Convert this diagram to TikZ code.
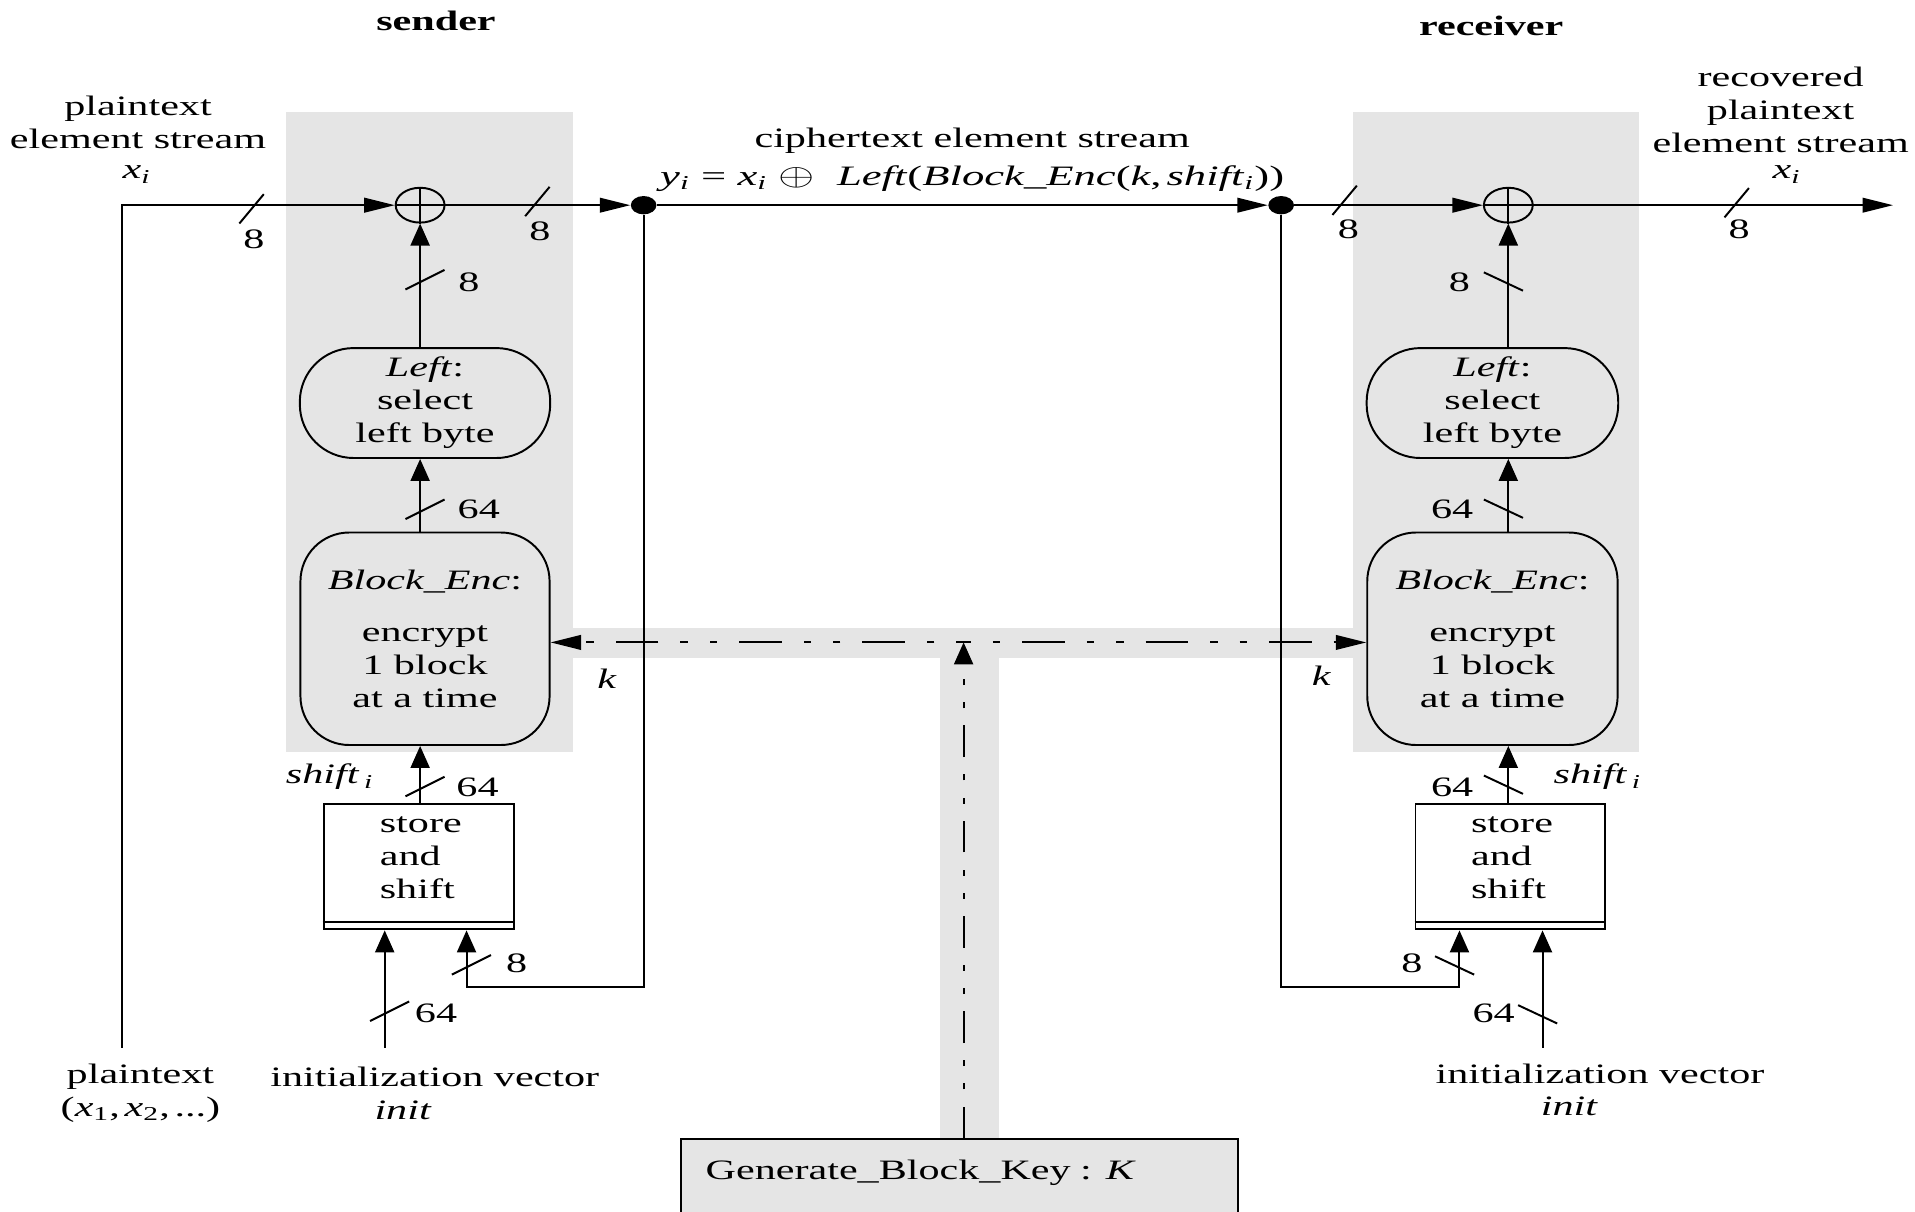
\documentclass[tikz,border=0pt]{standalone}
\usepackage{fontspec}
\setmainfont{Liberation Serif}[FakeStretch=1.5]
\usetikzlibrary{arrows.meta,shapes.geometric}
\definecolor{panel}{RGB}{229,229,229}

\newcommand{\isub}[1]{\textsubscript{\textit{#1}}}
\newcommand{\regtext}{\parbox[c][41pt][t]{32pt}{store\\and\\shift}}

\tikzset{
  wire/.style={line width=0.8pt},
  hto/.style={wire,-{Triangle[length=12.5pt,width=6pt]}},
  vto/.style={wire,-{Triangle[length=9pt,width=7.8pt]}},
  keyh/.style={line width=0.8pt, dash pattern=on 3pt off 9pt on 3pt off 9pt on 17.5pt off 9pt},
  keyv/.style={line width=0.8pt, dash pattern=on 13pt off 7pt on 2.5pt off 7pt on 2.5pt off 7pt},
  xorop/.style={ellipse, draw, wire, minimum width=20pt, minimum height=14.25pt, inner sep=0pt},
  joint/.style={ellipse, fill=black, minimum width=10.5pt, minimum height=7.5pt, inner sep=0pt},
  funcbox/.style={draw, wire, fill=panel, align=center, inner sep=0pt},
  regbox/.style={draw, wire, fill=white, inner sep=0pt, minimum height=51.5pt},
  genbox/.style={draw, wire, fill=panel, align=left, inner xsep=10pt, inner ysep=8pt,
    text width=208pt, text height=8.5pt, text depth=30pt},
  lbl/.style={inner sep=0pt, align=center},
  hbus/.pic={\draw[wire] (-10,12) -- (10,-12);},
  sbus/.pic={\draw[wire] (-12,6) -- (20,-10);},
  rbus/.pic={\draw[wire] (-20,-9) -- (12,6);}
}

\begin{document}
\begin{tikzpicture}[x=0.5pt,y=-0.5pt,font=\fontsize{11.5pt}{13.5pt}\selectfont]
\path[use as bounding box] (0,0) rectangle (1568,992);
\clip (0,0) rectangle (1568,992);

% shaded regions: sender, receiver and the key distribution channel
\fill[panel] (234,92) rectangle (469,616);
\fill[panel] (1108,92) rectangle (1342,616);
\fill[panel] (469,514) rectangle (1108,539);
\fill[panel] (770,539) rectangle (818,932);

% titles
\node[lbl] (sendt) at (357,17) {\bfseries sender};
\node[lbl] (recvt) at (1221,21) {\bfseries receiver};

% XOR combiners and branch points
\node[xorop] (sxor) at (344,168) {};
\node[joint] (sdot) at (527,168) {};
\node[joint] (rdot) at (1049,168) {};
\node[xorop] (rxor) at (1235,168) {};
\draw[wire] (sxor.north) -- (sxor.south) (sxor.west) -- (sxor.east);
\draw[wire] (rxor.north) -- (rxor.south) (rxor.west) -- (rxor.east);

% sender blocks
\node[funcbox, rounded corners=22pt, minimum width=102.5pt, minimum height=45pt]
  (sleft) at (348,330) {\textit{Left}:\\select\\left byte};
\node[funcbox, rounded corners=20pt, minimum width=102pt, minimum height=87pt]
  (sblock) at (348,523) {\textit{Block\_Enc}:\\[8pt]encrypt\\1 block\\at a time};
\node[regbox, minimum width=78pt] (sstore) at (343,709.5) {\regtext};
\draw[wire] ([yshift=3.25pt]sstore.south west) -- ([yshift=3.25pt]sstore.south east);

% receiver blocks
\node[funcbox, rounded corners=22pt, minimum width=103pt, minimum height=45pt]
  (rleft) at (1222,330) {\textit{Left}:\\select\\left byte};
\node[funcbox, rounded corners=20pt, minimum width=102.5pt, minimum height=87pt]
  (rblock) at (1222,523) {\textit{Block\_Enc}:\\[8pt]encrypt\\1 block\\at a time};
\node[regbox, minimum width=77.5pt] (rstore) at (1236.5,709.5) {\regtext};
\draw[wire] ([yshift=3.25pt]rstore.south west) -- ([yshift=3.25pt]rstore.south east);

% key generator
\node[genbox, anchor=north west] (gen) at (557,932) {Generate\_Block\_Key : \textit{K}};

% data path
\coordinate (ptin) at (100,858);
\coordinate (outend) at (1550,168);
\draw[hto] (ptin) |- (sxor.west);
\draw[hto] (sxor.east) -- (sdot.west);
\draw[hto] (sdot.east) -- (rdot.west);
\draw[hto] (rdot.east) -- (rxor.west);
\draw[hto] (rxor.east) -- (outend);

% sender vertical chain
\draw[vto] (sxor |- sleft.north) -- (sxor.south);
\draw[vto] (sxor |- sblock.north) -- (sxor |- sleft.south);
\draw[vto] (sxor |- sstore.north) -- (sxor |- sblock.south);
\coordinate (siv) at (315,858);
\draw[vto] (siv) -- (siv |- sstore.south);
\coordinate (sfb) at (382,808);
\draw[vto] (sdot.south) |- (sfb) -- (sfb |- sstore.south);

% receiver vertical chain
\draw[vto] (rxor |- rleft.north) -- (rxor.south);
\draw[vto] (rxor |- rblock.north) -- (rxor |- rleft.south);
\draw[vto] (rxor |- rstore.north) -- (rxor |- rblock.south);
\coordinate (riv) at (1263,858);
\draw[vto] (riv) -- (riv |- rstore.south);
\coordinate (rfb) at (1195,808);
\draw[vto] (rdot.south) |- (rfb) -- (rfb |- rstore.south);

% key distribution
\coordinate (kj) at (789,526);
\draw[keyv,-{Triangle[length=9pt,width=7.8pt]}] (kj |- gen.north) -- (kj);
\draw[keyh,-{Triangle[length=12.5pt,width=6pt]}] (kj) -- (sblock.east |- kj);
\draw[keyh,-{Triangle[length=12.5pt,width=6pt]}] (kj) -- (rblock.west |- kj);

% bus width marks
\pic at (206,171) {hbus};
\pic at (440,165) {hbus};
\pic at (1101,164) {hbus};
\pic at (1422,166) {hbus};
\pic at (344,231) {sbus};
\pic at (344,419) {sbus};
\pic at (344,646) {sbus};
\pic at (315,830) {sbus};
\pic at (382,792) {sbus};
\pic at (1235,232) {rbus};
\pic at (1235,418) {rbus};
\pic at (1235,644) {rbus};
\pic at (1263,832) {rbus};
\pic at (1195,792) {rbus};

\node[lbl] (w1) at (208,196) {8};
\node[lbl] (w2) at (442,189) {8};
\node[lbl] (w3) at (1104,188) {8};
\node[lbl] (w4) at (1424,188) {8};
\node[lbl] (w5) at (384,231) {8};
\node[lbl] (w6) at (392,417) {64};
\node[lbl] (w7) at (391,645) {64};
\node[lbl] (w8) at (423,789) {8};
\node[lbl] (w9) at (357,830) {64};
\node[lbl] (w10) at (1195,231) {8};
\node[lbl] (w11) at (1189,417) {64};
\node[lbl] (w12) at (1189,645) {64};
\node[lbl] (w13) at (1156,789) {8};
\node[lbl] (w14) at (1223,830) {64};

% signal names
\node[lbl] (ptstream) at (113,100) {plaintext\\element stream};
\node[lbl] (xin) at (112,143) {\textit{x}\isub{i}};
\node[lbl] (ptsrc) at (115,895) {plaintext\\(\textit{x}\textsubscript{1},\,\textit{x}\textsubscript{2},\,...)};
\node[lbl] (ctlbl) at (796,115) {ciphertext element stream};
\node[lbl] (ctfor) at (796,146) {\scalebox{1.06}[1]{\textit{y}\isub{i} = \textit{x}\isub{i} \scalebox{1.5}[1.05]{$\oplus$}\ \ \textit{Left}(\textit{Block\_Enc}(\textit{k},\,\textit{shift}\isub{i}))}};
\node[lbl] (recov) at (1458,90) {recovered\\plaintext\\element stream};
\node[lbl] (xout) at (1463,143) {\textit{x}\isub{i}};
\node[lbl] (sshift) at (270,636) {\textit{shift}\,\isub{i}};
\node[lbl] (rshift) at (1308,636) {\textit{shift}\,\isub{i}};
\node[lbl] (sk) at (497,556) {\textit{k}};
\node[lbl] (rk) at (1082,553) {\textit{k}};
\node[lbl] (sivl) at (356,882) {initialization vector};
\node[lbl] (sivn) at (330,909) {\textit{init}};
\node[lbl] (rivl) at (1310,879) {initialization vector};
\node[lbl] (rivn) at (1285,906) {\textit{init}};
\end{tikzpicture}
\end{document}
